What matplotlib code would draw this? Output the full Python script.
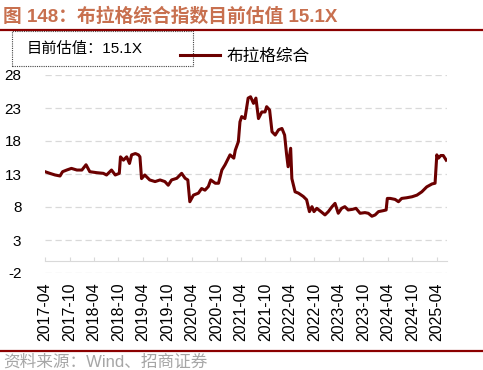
import matplotlib
matplotlib.use('agg')
import matplotlib.pyplot as plt
from matplotlib.patches import Rectangle
import pandas as pd

# 布拉格综合指数 PE
dates = [
    '2017-04-01', '2017-05-07', '2017-06-15', '2017-07-22', '2017-08-10', '2017-09-10',
    '2017-10-15', '2017-11-25', '2018-01-01', '2018-02-01', '2018-03-01', '2018-04-22',
    '2018-06-10', '2018-07-04', '2018-08-10', '2018-09-07', '2018-10-07', '2018-10-16',
    '2018-11-07', '2018-12-01', '2018-12-22', '2019-01-07', '2019-02-04', '2019-02-27',
    '2019-03-10', '2019-03-22', '2019-04-15', '2019-05-22', '2019-07-01', '2019-08-07',
    '2019-09-12', '2019-10-07', '2019-11-01', '2019-12-10', '2020-01-15', '2020-02-10',
    '2020-03-01', '2020-03-16', '2020-04-12', '2020-05-19', '2020-06-12', '2020-07-07',
    '2020-08-01', '2020-08-19', '2020-09-22', '2020-10-16', '2020-11-10', '2020-12-04',
    '2021-01-10', '2021-02-07', '2021-02-18', '2021-03-13', '2021-03-25', '2021-04-07',
    '2021-05-01', '2021-05-25', '2021-06-12', '2021-07-04', '2021-07-22', '2021-08-10',
    '2021-09-04', '2021-09-28', '2021-10-10', '2021-11-01', '2021-11-19', '2021-12-13',
    '2022-01-07', '2022-02-01', '2022-02-21', '2022-03-07', '2022-03-19', '2022-04-07',
    '2022-04-16', '2022-05-10', '2022-06-04', '2022-07-10', '2022-08-04', '2022-08-25',
    '2022-09-13', '2022-09-28', '2022-10-19', '2022-11-19', '2022-12-19', '2023-01-13',
    '2023-02-10', '2023-03-04', '2023-03-28', '2023-04-22', '2023-05-16', '2023-06-10',
    '2023-07-13', '2023-08-07', '2023-09-07', '2023-10-13', '2023-11-07', '2023-12-04',
    '2023-12-28', '2024-01-22', '2024-02-28', '2024-03-19', '2024-03-28', '2024-04-19',
    '2024-05-25', '2024-06-19', '2024-07-13', '2024-08-19', '2024-09-28', '2024-11-04',
    '2024-12-10', '2025-01-16', '2025-02-25', '2025-03-19', '2025-04-01', '2025-04-13',
    '2025-05-01', '2025-05-19', '2025-06-10',
]
pe = [
    13.35, 13.1, 12.85, 12.7, 13.35, 13.6,
    13.85, 13.6, 13.6, 14.4, 13.35, 13.2,
    13.1, 12.85, 13.6, 12.85, 13.1, 15.6,
    15.1, 15.6, 14.6, 15.9, 16.1, 15.9,
    15.6, 12.3, 12.85, 12.1, 11.85, 12.1,
    11.85, 11.3, 12.1, 12.35, 13.1, 12.35,
    12.1, 8.8, 9.8, 10.1, 10.8, 10.55,
    11.1, 12.1, 11.6, 11.6, 13.6, 14.4,
    15.9, 15.4, 16.6, 17.9, 20.9, 21.7,
    21.4, 24.5, 24.7, 23.7, 24.5, 21.4,
    22.4, 22.4, 23.2, 22.7, 19.4, 18.9,
    19.7, 19.9, 18.9, 16.1, 14.1, 16.9,
    12.3, 10.3, 10.1, 9.6, 9.1, 7.3,
    8.05, 7.3, 7.8, 7.3, 6.8, 7.3,
    8.05, 8.55, 7.05, 7.8, 8.05, 7.55,
    7.65, 7.8, 7.05, 7.15, 7.05, 6.6,
    6.8, 7.3, 7.45, 7.55, 9.3, 9.3,
    9.15, 8.8, 9.3, 9.4, 9.55, 9.8,
    10.3, 11.05, 11.5, 11.6, 15.9, 15.4,
    15.8, 15.8, 15.1,
]
y_ticks = [-2, 3, 8, 13, 18, 23, 28]
x_ticks = pd.date_range('2017-04-01', '2025-04-01', freq='6MS')

title = '图 148：布拉格综合指数目前估值 15.1X'
series_name = '布拉格综合'
note = '目前估值：15.1X'
source = '资料来源：Wind、招商证券'

plt.rcParams['font.family'] = ['Liberation Sans', 'Noto Sans CJK SC']
plt.rcParams['axes.unicode_minus'] = False

fig = plt.figure(figsize=(4.83, 3.70), dpi=100)
ax = fig.add_axes([45 / 483, 1 - 273 / 370, 402 / 483, 198 / 370])

# spine position first: set_position resets the ticks
for s in ['top', 'right', 'left']:
    ax.spines[s].set_visible(False)
ax.spines['bottom'].set_position(('data', -0.25))
ax.spines['bottom'].set_color('#D9D9D9')

x = pd.to_datetime(dates)
line, = ax.plot(x, pe, color='#6B0000', lw=2.2, label=series_name, solid_joinstyle='round')

ax.set_ylim(-2, 28)
ax.set_yticks(y_ticks)
ax.set_xlim(pd.Timestamp('2017-04-01'), pd.Timestamp('2025-06-16'))
ax.set_xticks(x_ticks)
ax.set_xticklabels([d.strftime('%Y-%m') for d in x_ticks], rotation=90, fontsize=11.5)
ax.xaxis.set_minor_locator(plt.NullLocator())

ax.grid(axis='y', color='#D9D9D9', lw=0.9, ls=(0, (5, 3)))
ax.set_axisbelow(True)
ax.tick_params(axis='x', direction='in', length=3, color='#D9D9D9', pad=15, labelcolor='black')
ax.tick_params(axis='y', length=0, pad=17, labelsize=11, labelcolor='black')

# header / footer
fig.text(3 / 483, 1 - 17 / 370, title, color='#C8704F', fontsize=13.5, fontweight='bold',
         va='center', ha='left')
fig.add_artist(plt.Line2D([0, 1], [1 - 29.5 / 370] * 2, color='#8B0000', lw=1.6))
fig.add_artist(plt.Line2D([0, 1], [1 - 351 / 370] * 2, color='#8B0000', lw=1.6))
fig.text(3 / 483, 1 - 362 / 370, source, color='#A6A6A6', fontsize=12, va='center', ha='left')

# note box and legend
fig.add_artist(Rectangle((12 / 483, 1 - 66 / 370), 181 / 483, 35 / 370, transform=fig.transFigure,
                         fill=False, ec='#444444', lw=0.8, ls=(0, (1, 1))))
fig.text(27 / 483, 1 - 49 / 370, note, fontsize=11, va='center', ha='left')
fig.legend(handles=[line], loc='center left', bbox_to_anchor=(180 / 483, 1 - 56 / 370),
           frameon=False, fontsize=12, handlelength=2.4, handletextpad=0.4,
           borderpad=0, borderaxespad=0)

fig.savefig('out.png', dpi=100)
